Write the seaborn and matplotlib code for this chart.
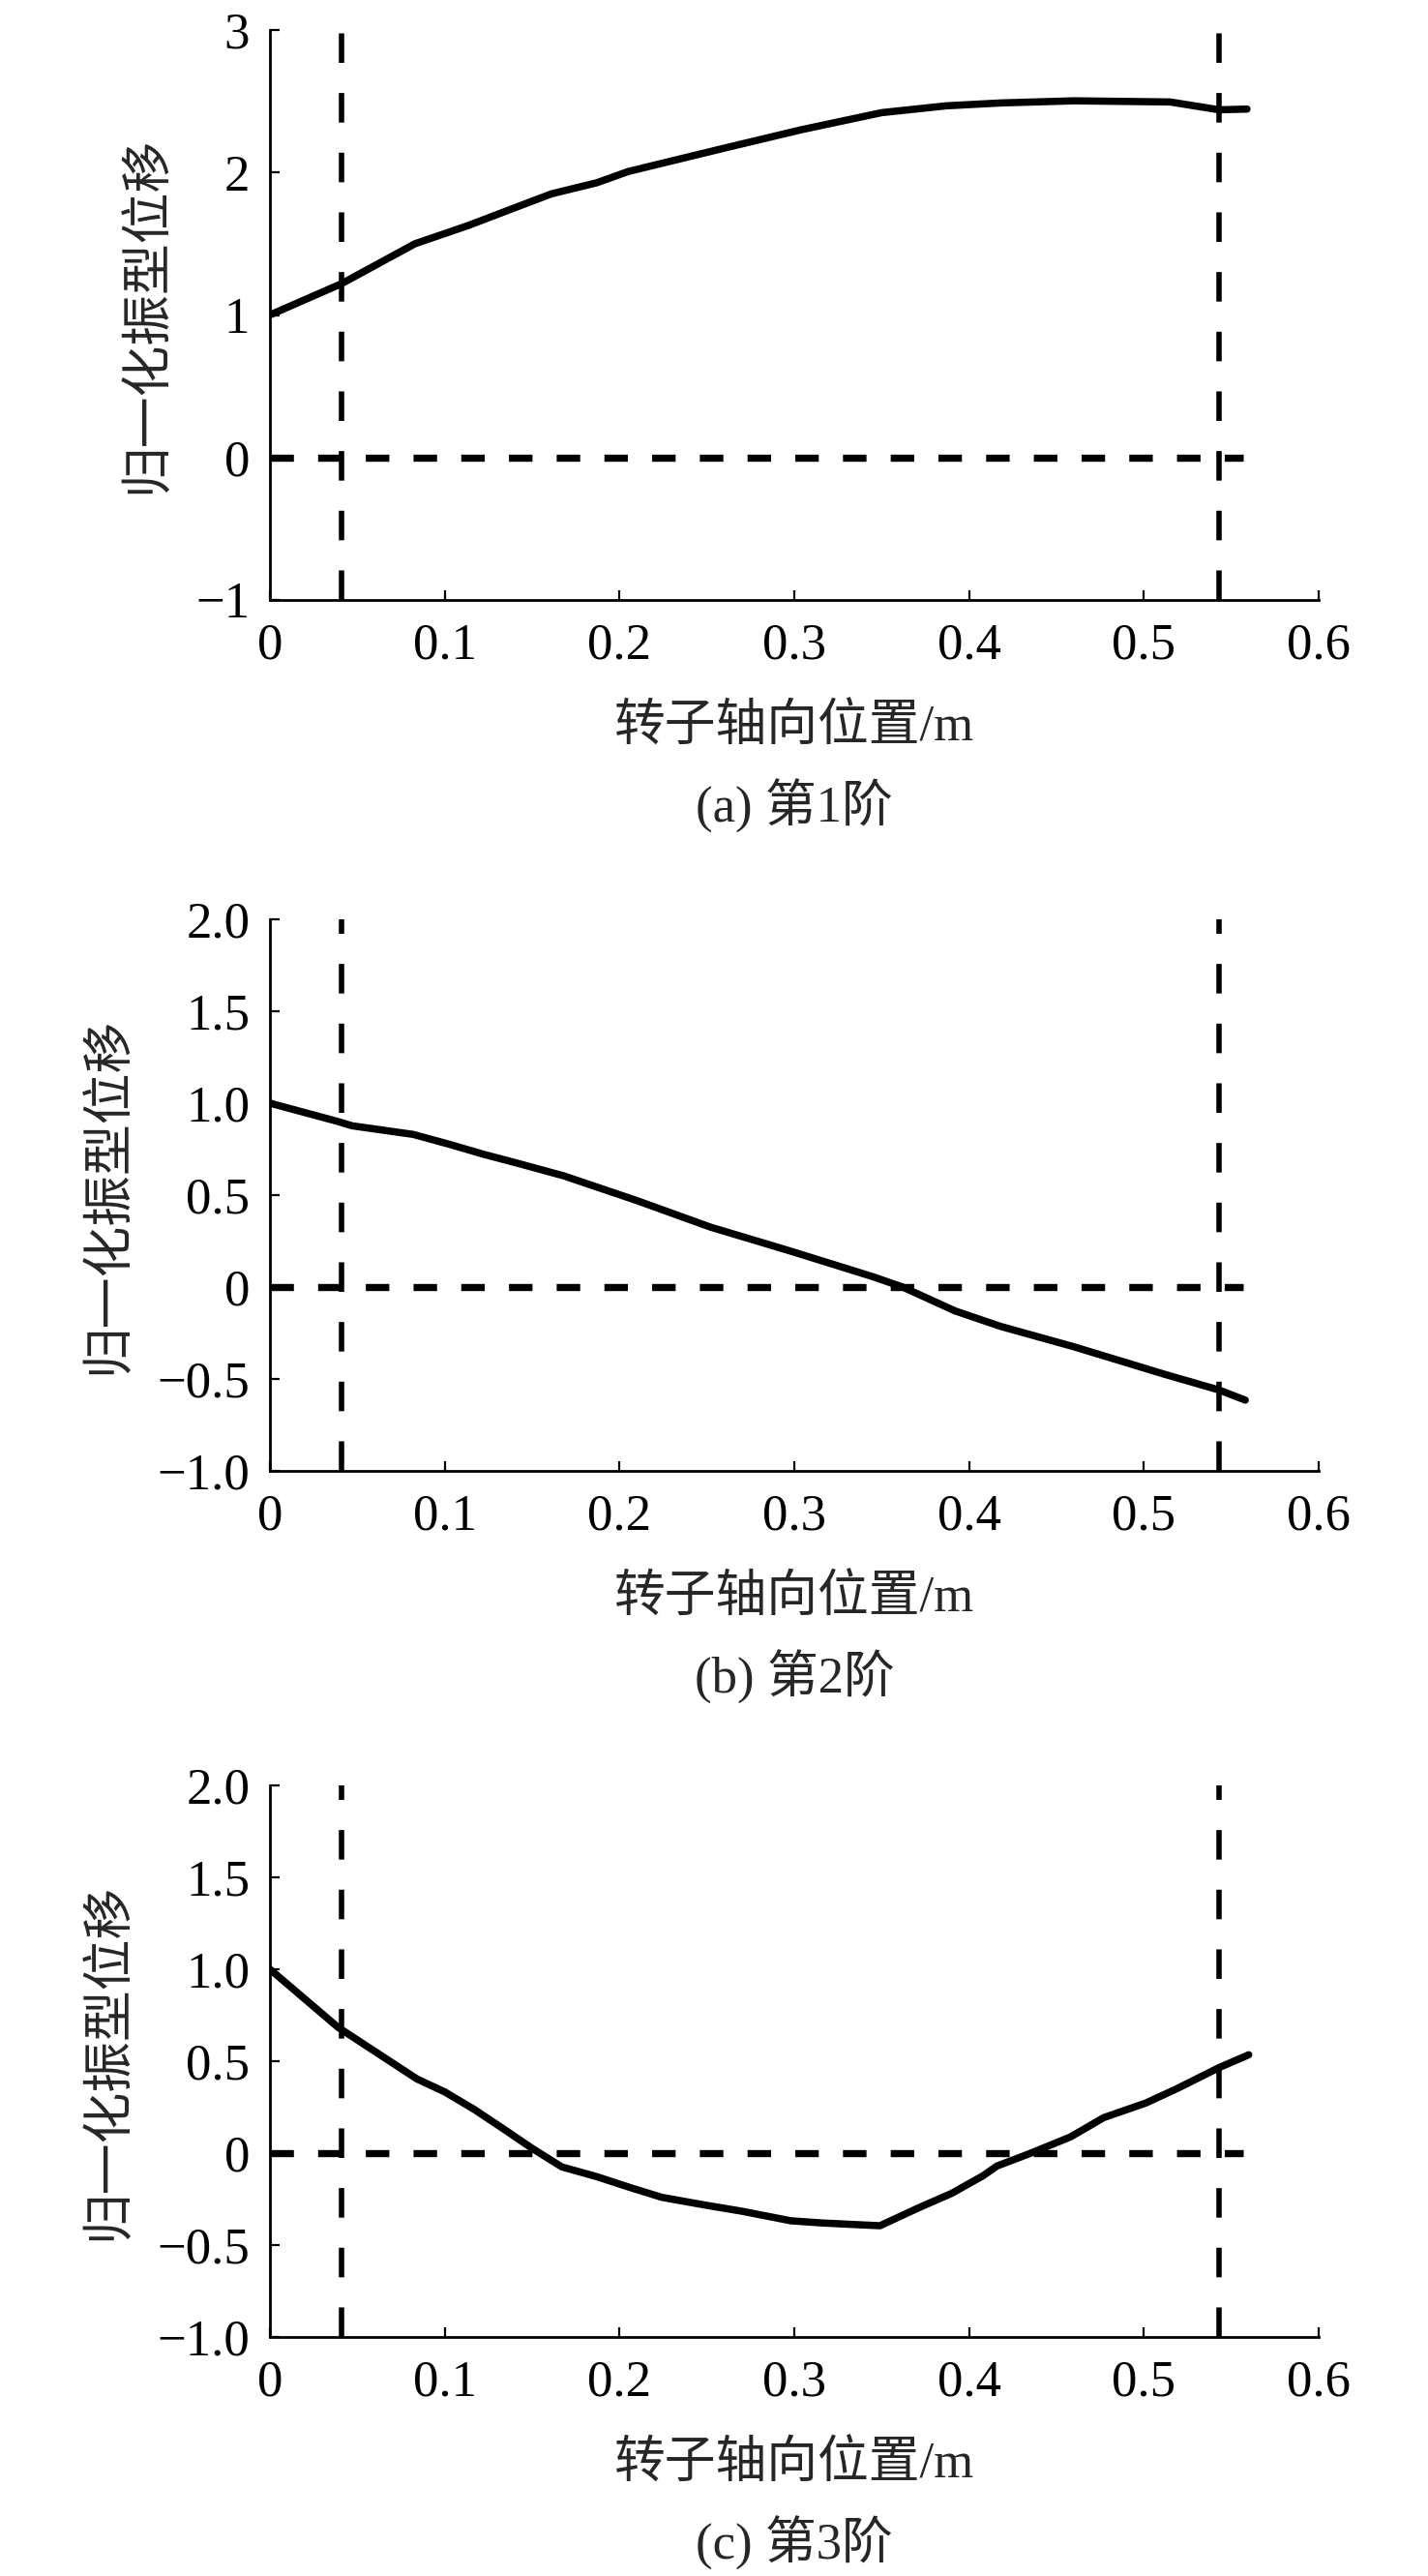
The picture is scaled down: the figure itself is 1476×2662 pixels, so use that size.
import matplotlib
matplotlib.use('Agg')
import matplotlib.pyplot as plt
import seaborn as sns

# mode shapes (axial position in m, normalised displacement)
x_mode1 = [0, 0.041, 0.083, 0.113, 0.161, 0.187, 0.205, 0.262, 0.304, 0.35, 0.387, 0.418, 0.46, 0.515, 0.543, 0.559]
y_mode1 = [1.0, 1.22, 1.50, 1.626, 1.85, 1.928, 2.007, 2.177, 2.30, 2.42, 2.468, 2.488, 2.503, 2.495, 2.44, 2.445]

x_mode2 = [0, 0.039, 0.047, 0.082, 0.102, 0.123, 0.141, 0.168, 0.21, 0.252, 0.298, 0.345, 0.362, 0.392, 0.418, 0.46, 0.512, 0.543, 0.558]
y_mode2 = [1.0, 0.90, 0.877, 0.83, 0.778, 0.72, 0.675, 0.605, 0.47, 0.326, 0.195, 0.056, 0.0, -0.13, -0.214, -0.325, -0.475, -0.56, -0.615]

x_mode3 = [0, 0.039, 0.084, 0.100, 0.117, 0.135, 0.150, 0.167, 0.187, 0.205, 0.224, 0.248, 0.270, 0.298,
           0.316, 0.349, 0.371, 0.390, 0.408, 0.416, 0.434, 0.458, 0.477, 0.501, 0.519, 0.543, 0.560]
y_mode3 = [1.0, 0.684, 0.404, 0.333, 0.237, 0.123, 0.026, -0.075, -0.128, -0.184, -0.240, -0.281, -0.316, -0.368,
           -0.38, -0.395, -0.298, -0.219, -0.123, -0.070, -0.005, 0.088, 0.193, 0.272, 0.351, 0.465, 0.535]

bearing_x = [0.041, 0.543]      # dashed verticals
zero_line_x = [0, 0.557]        # extent of dashed y=0 line
zero_line_y = [0, 0]

x_ticks = [0, 0.1, 0.2, 0.3, 0.4, 0.5, 0.6]
x_ticklabels = ['0', '0.1', '0.2', '0.3', '0.4', '0.5', '0.6']
y_ticks_1 = [-1, 0, 1, 2, 3]
y_ticklabels_1 = ['\u22121', '0', '1', '2', '3']
y_ticks_23 = [-1.0, -0.5, 0, 0.5, 1.0, 1.5, 2.0]
y_ticklabels_23 = ['\u22121.0', '\u22120.5', '0', '0.5', '1.0', '1.5', '2.0']

xlabel = '转子轴向位置/m'
ylabel = '归一化振型位移'
captions = ['(a) 第1阶', '(b) 第2阶', '(c) 第3阶']

sns.set_style('ticks')
plt.rcParams['font.family'] = ['Liberation Serif', 'Noto Sans CJK SC']
plt.rcParams['font.size'] = 38

fig = plt.figure(figsize=(14.76, 26.62), dpi=100)
W, H = 1476, 2662
left, right = 279, 1363
boxes = [(31, 620), (950, 1520), (1845, 2415)]

panels = [
    (x_mode1, y_mode1, y_ticks_1, y_ticklabels_1, (-1, 3)),
    (x_mode2, y_mode2, y_ticks_23, y_ticklabels_23, (-1, 2)),
    (x_mode3, y_mode3, y_ticks_23, y_ticklabels_23, (-1, 2)),
]

for i, (xs, ys, yt, ytl, ylim) in enumerate(panels):
    top, bot = boxes[i]
    ax = fig.add_axes([left / W, (H - bot) / H, (right - left) / W, (bot - top) / H])

    # reference lines
    for bx in bearing_x:
        ax.axvline(bx, color='black', lw=4.0, linestyle=(0, (5.5, 5.6)), zorder=2)
    ax.plot(zero_line_x, zero_line_y, color='black', lw=5.3, linestyle=(0, (3.3, 3.4)), zorder=2)

    sns.lineplot(x=xs, y=ys, ax=ax, color='black', lw=5.4, estimator=None, sort=False, zorder=3)

    ax.set_xlim(0, 0.6)
    ax.set_ylim(*ylim)
    ax.set_xticks(x_ticks)
    ax.set_xticklabels(x_ticklabels)
    ax.set_yticks(yt)
    ax.set_yticklabels(ytl)
    ax.tick_params(direction='in', length=7, width=1.6, labelsize=38, colors='black')
    ax.tick_params(axis='x', pad=17)
    ax.tick_params(axis='y', pad=15)
    sns.despine(ax=ax)
    for s in ['left', 'bottom']:
        ax.spines[s].set_linewidth(2.0)
        ax.spines[s].set_color('black')

    ax.set_xlabel(xlabel, fontsize=38, labelpad=26)
    ax.set_ylabel(ylabel, fontsize=38, labelpad=18)
    ax.annotate(captions[i], xy=(0.5, 0), xycoords='axes fraction',
                xytext=(0, -153), textcoords='offset points',
                ha='center', va='center', fontsize=38)

fig.savefig('out.png', dpi=100)
